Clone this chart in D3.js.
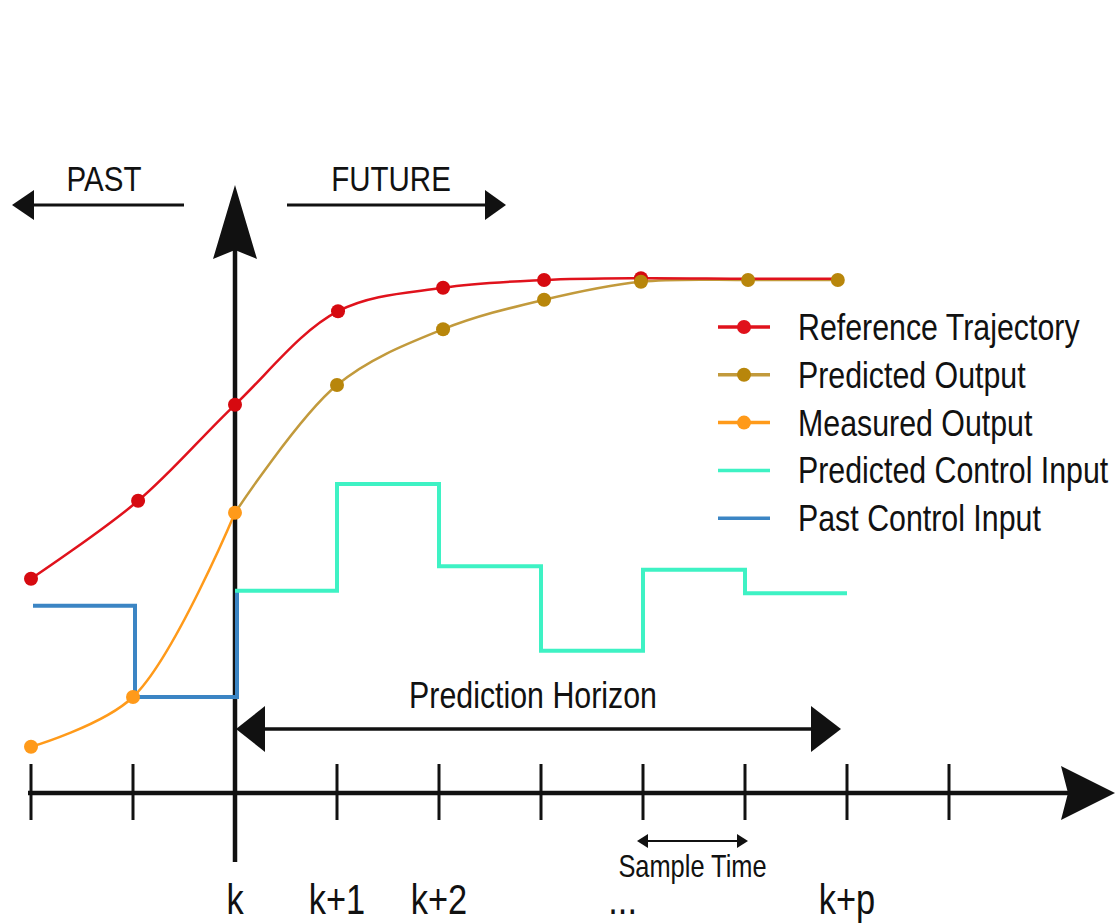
<!DOCTYPE html>
<html>
<head>
<meta charset="utf-8">
<script src="https://cdn.jsdelivr.net/npm/d3@7"></script>
<style>
  body { margin: 0; background: #fff; }
  svg text { font-family: "Liberation Sans", Arial, sans-serif; fill: #111; }
</style>
</head>
<body>
<svg width="1115" height="924"></svg>
<script>
// sample steps on the time axis (k = 0)
var steps = [-2, -1, 0, 1, 2, 3, 4, 5, 6, 7];
var tickLabels = [
    {t: 0, label: 'k'},
    {t: 1, label: 'k+1'},
    {t: 2, label: 'k+2'},
    {t: 3.8, label: '...'},
    {t: 6, label: 'k+p'}
];

// outputs (times)
var refTimes = [-2, -0.95, 0, 1.01, 2.04, 3.03, 3.98, 5.03, 5.91];
var refValues = [35.7, 48.7, 64.7, 80.3, 84.2, 85.5, 85.8, 85.7, 85.7];
var predTimes = [0, 1.0, 2.04, 3.03, 3.98, 5.03, 5.91];
var predValues = [46.7, 68.0, 77.3, 82.2, 85.2, 85.5, 85.5];
var measTimes = [-2, -1, 0];
var measValues = [7.7, 16.0, 46.7];

// control inputs (piecewise constant)
var predCtrlTimes = [0, 1, 2, 3, 4, 5, 6];
var predCtrlValues = [33.7, 51.5, 37.8, 23.7, 37.2, 33.3, 33.3];
var pastCtrlTimes = [-2, -1, 0];
var pastCtrlValues = [31.2, 16.0, 33.7];

var legendNames = ['Reference Trajectory', 'Predicted Output', 'Measured Output', 'Predicted Control Input', 'Past Control Input'];
var legendColors = ['#e0121c', '#b8860b', '#ff9a1a', '#3ef2c4', '#3b85c4'];
var legendDots = [true, true, true, false, false];

var svg = d3.select('svg');

var xScale = d3.scaleLinear().domain([-2, 7]).range([31, 949]);
var yScale = d3.scaleLinear().domain([0, 100]).range([793, 193]);

var axisY = yScale(0);
var x0 = xScale(0);

// the original lettering is a narrow grotesque; squeeze Liberation Sans to match
var squeeze = 0.82;
function label(parent, x, y, size, str, anchor) {
    return parent.append('text')
        .attr('transform', 'translate(' + [x, y] + ') scale(' + squeeze + ',1)')
        .attr('text-anchor', anchor || 'middle')
        .style('font-size', size + 'px')
        .text(str);
}

function zip(ts, vs) {
    return ts.map(function(t, i) { return {t: t, v: vs[i]}; });
}

var smooth = d3.line()
    .x(function(d) { return xScale(d.t); })
    .y(function(d) { return yScale(d.v); })
    .curve(d3.curveCatmullRom.alpha(0.5));

var stepped = d3.line()
    .x(function(d) { return xScale(d.t); })
    .y(function(d) { return yScale(d.v); })
    .curve(d3.curveStepAfter);

var poly = d3.line();

// ---- PAST / FUTURE arrows ----
var topY = 205;
svg.append('line').attr('x1', 184).attr('x2', 30).attr('y1', topY).attr('y2', topY)
    .attr('stroke', '#111').attr('stroke-width', 3);
svg.append('path').attr('d', poly([[12, topY], [34, topY - 15], [34, topY + 15]]) + 'Z').attr('fill', '#111');
svg.append('line').attr('x1', 287).attr('x2', 488).attr('y1', topY).attr('y2', topY)
    .attr('stroke', '#111').attr('stroke-width', 3);
svg.append('path').attr('d', poly([[506, topY], [485, topY - 15], [485, topY + 15]]) + 'Z').attr('fill', '#111');
label(svg, 104, 191, 36, 'PAST');
label(svg, 391, 191, 36, 'FUTURE');

// ---- time axis ----
svg.append('line').attr('x1', 28).attr('x2', 1070).attr('y1', axisY).attr('y2', axisY)
    .attr('stroke', '#111').attr('stroke-width', 4.5);
svg.append('path')
    .attr('d', poly([[1115, axisY], [1061, axisY - 27], [1068, axisY], [1061, axisY + 27]]) + 'Z')
    .attr('fill', '#111');

svg.selectAll('.tick').data(steps).enter().append('line')
    .attr('class', 'tick')
    .attr('x1', function(d) { return xScale(d); })
    .attr('x2', function(d) { return xScale(d); })
    .attr('y1', axisY - 29).attr('y2', axisY + 27)
    .attr('stroke', '#111').attr('stroke-width', 3);

tickLabels.forEach(function(d) {
    label(svg, xScale(d.t), 914, 42, d.label);
});

// ---- vertical axis at k ----
svg.append('line').attr('x1', x0).attr('x2', x0).attr('y1', 862).attr('y2', 240)
    .attr('stroke', '#111').attr('stroke-width', 4.5);
svg.append('path')
    .attr('d', poly([[x0, 185], [x0 + 22, 259], [x0, 250], [x0 - 22, 259]]) + 'Z')
    .attr('fill', '#111');

// ---- control inputs ----
svg.append('path').datum(zip(pastCtrlTimes, pastCtrlValues))
    .attr('d', stepped).attr('fill', 'none')
    .attr('stroke', legendColors[4]).attr('stroke-width', 4)
    .attr('transform', 'translate(2,0)');
svg.append('path').datum(zip(predCtrlTimes, predCtrlValues))
    .attr('d', stepped).attr('fill', 'none')
    .attr('stroke', legendColors[3]).attr('stroke-width', 4);

// ---- outputs ----
var measured = zip(measTimes, measValues);
var predicted = zip(predTimes, predValues);
var reference = zip(refTimes, refValues);

svg.append('path').datum(measured).attr('d', smooth).attr('fill', 'none')
    .attr('stroke', legendColors[2]).attr('stroke-width', 2.5);
svg.append('path').datum(predicted).attr('d', smooth).attr('fill', 'none')
    .attr('stroke', '#c29a3c').attr('stroke-width', 2.5);
svg.append('path').datum(reference).attr('d', smooth).attr('fill', 'none')
    .attr('stroke', legendColors[0]).attr('stroke-width', 2.5);

function dots(data, color) {
    svg.append('g').selectAll('circle').data(data).enter().append('circle')
        .attr('cx', function(d) { return xScale(d.t); })
        .attr('cy', function(d) { return yScale(d.v); })
        .attr('r', 7)
        .attr('fill', color);
}
dots(reference.slice(0, 7), '#d60a10');
dots(predicted.slice(1), legendColors[1]);
dots(measured, legendColors[2]);

// ---- prediction horizon ----
var phY = 729;
var phEnd = 841;
svg.append('line').attr('x1', x0 + 20).attr('x2', phEnd - 20).attr('y1', phY).attr('y2', phY)
    .attr('stroke', '#111').attr('stroke-width', 3.5);
svg.append('path').attr('d', poly([[x0 + 1, phY], [x0 + 30, phY - 23], [x0 + 30, phY + 23]]) + 'Z').attr('fill', '#111');
svg.append('path').attr('d', poly([[phEnd, phY], [phEnd - 30, phY - 23], [phEnd - 30, phY + 23]]) + 'Z').attr('fill', '#111');
label(svg, 533, 708, 37, 'Prediction Horizon');

// ---- sample time ----
var stY = 841;
var st0 = xScale(4) - 6, st1 = xScale(5) + 3;
svg.append('line').attr('x1', st0 + 8).attr('x2', st1 - 8).attr('y1', stY).attr('y2', stY)
    .attr('stroke', '#111').attr('stroke-width', 2);
svg.append('path').attr('d', poly([[st0, stY], [st0 + 11, stY - 7], [st0 + 11, stY + 7]]) + 'Z').attr('fill', '#111');
svg.append('path').attr('d', poly([[st1, stY], [st1 - 11, stY - 7], [st1 - 11, stY + 7]]) + 'Z').attr('fill', '#111');
label(svg, (st0 + st1) / 2, 877, 31, 'Sample Time');

// ---- legend ----
var legend = svg.append('g').attr('transform', 'translate(718,327)');
legendNames.forEach(function(name, i) {
    var row = legend.append('g').attr('transform', 'translate(0,' + (i * 47.8) + ')');
    row.append('line').attr('x1', 0).attr('x2', 52).attr('y1', 0).attr('y2', 0)
        .attr('stroke', i === 1 ? '#c29a3c' : legendColors[i])
        .attr('stroke-width', 3.5);
    if (legendDots[i]) {
        row.append('circle').attr('cx', 26).attr('cy', 0).attr('r', 7)
            .attr('fill', legendColors[i]);
    }
    label(row, 80, 13, 37, name, 'start');
});
</script>
</body>
</html>
